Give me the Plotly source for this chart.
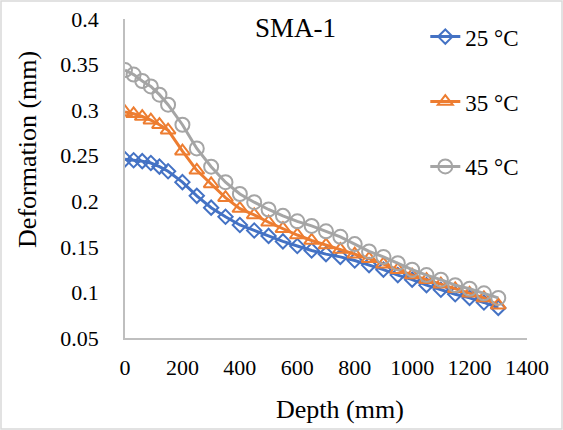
import plotly.graph_objects as go

depth = [0, 30, 60, 90, 120, 150, 200, 250, 300, 350, 400, 450, 500, 550, 600,
         650, 700, 750, 800, 850, 900, 950, 1000, 1050, 1100, 1150, 1200, 1250, 1300]

def_25 = [0.246, 0.245, 0.244, 0.242, 0.238, 0.233, 0.221, 0.206, 0.193, 0.183,
          0.174, 0.168, 0.162, 0.156, 0.151, 0.146, 0.142, 0.139, 0.135, 0.130,
          0.125, 0.119, 0.114, 0.108, 0.103, 0.098, 0.094, 0.089, 0.083]
def_35 = [0.298, 0.296, 0.293, 0.289, 0.284, 0.278, 0.255, 0.234, 0.219, 0.204,
          0.192, 0.185, 0.177, 0.170, 0.163, 0.157, 0.152, 0.147, 0.142, 0.137,
          0.131, 0.125, 0.119, 0.114, 0.109, 0.104, 0.099, 0.094, 0.086]
def_45 = [0.344, 0.339, 0.332, 0.326, 0.317, 0.306, 0.284, 0.258, 0.238, 0.221,
          0.208, 0.199, 0.191, 0.184, 0.178, 0.173, 0.167, 0.161, 0.153, 0.145,
          0.139, 0.132, 0.125, 0.119, 0.114, 0.108, 0.104, 0.099, 0.094]

series_names = ["25 °C", "35 °C", "45 °C"]
series_vals = [def_25, def_35, def_45]
colors = ["#4472C4", "#ED7D31", "#A5A5A5"]
symbols = ["diamond-open", "triangle-up-open", "circle-open"]
msizes = [11, 13, 14]

FONT = "Liberation Serif, Times New Roman, serif"

fig = go.Figure()
for i, (name, vals) in enumerate(zip(series_names, series_vals)):
    fig.add_trace(go.Scatter(
        x=depth, y=vals, name=name, mode="lines+markers",
        legendgroup=f"g{i}",
        line=dict(color=colors[i], width=3),
        marker=dict(symbol=symbols[i], size=msizes[i], color=colors[i],
                    line=dict(width=2, color=colors[i])),
    ))

fig.update_layout(
    template="none",
    width=563, height=430,
    margin=dict(l=125, r=36, t=19, b=92, pad=0),
    paper_bgcolor="white", plot_bgcolor="white",
    font=dict(family=FONT, size=22, color="black"),
    showlegend=True,
    legend=dict(x=0.747, y=1.012, xanchor="left", yanchor="top",
                font=dict(family=FONT, size=23, color="black"),
                tracegroupgap=32, bgcolor="rgba(0,0,0,0)", borderwidth=0),
    xaxis=dict(range=[0, 1400], dtick=200, tick0=0, showgrid=False, zeroline=False,
               showline=True, linecolor="#BFBFBF", linewidth=1.5, automargin=False,
               ticks="", ticklabelstandoff=9,
               tickfont=dict(family=FONT, size=22, color="black")),
    yaxis=dict(range=[0.05, 0.4], dtick=0.05, tick0=0.05, showgrid=False, zeroline=False,
               showline=True, linecolor="#BFBFBF", linewidth=1.5, automargin=False,
               ticks="", ticklabelstandoff=20,
               tickfont=dict(family=FONT, size=22, color="black")),
    annotations=[
        dict(text="SMA-1", x=0.425, y=0.973, xref="paper", yref="paper",
             xanchor="center", yanchor="middle",
             showarrow=False, font=dict(family=FONT, size=27, color="black")),
        dict(text="Depth (mm)", x=0.535, y=-0.225, xref="paper", yref="paper",
             xanchor="center", yanchor="middle",
             showarrow=False, font=dict(family=FONT, size=26, color="black")),
        dict(text="Deformation (mm)", x=-0.241, y=0.59, xref="paper", yref="paper",
             xanchor="center", yanchor="middle",
             showarrow=False, textangle=-90, font=dict(family=FONT, size=26, color="black")),
    ],
    shapes=[
        dict(type="rect", xref="paper", yref="paper",
             x0=-124/402, x1=1 + 35/402, y0=-91/319, y1=1 + 18/319,
             line=dict(color="#D9D9D9", width=1.5), fillcolor="rgba(0,0,0,0)", layer="below"),
    ],
)

fig.write_html("out.html", config={"displayModeBar": False},
               post_script="document.body.style.margin='0';document.body.style.overflow='hidden';")
